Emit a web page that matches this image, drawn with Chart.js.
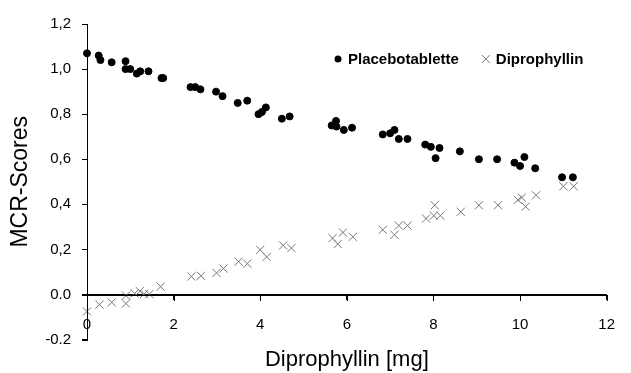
<!DOCTYPE html>
<html>
<head>
<meta charset="utf-8">
<script src="https://cdn.jsdelivr.net/npm/chart.js@4.4.1/dist/chart.umd.min.js"></script>
<style>
  body { margin: 0; background: #fff; }
</style>
</head>
<body>
<canvas id="grafico" width="631" height="373"></canvas>
<script>
// Dosis (mg) und MCR-Scores, Placebo
const placeboDose = [0, 0.27, 0.31, 0.57, 0.89, 0.89, 1.0, 1.15, 1.23, 1.42, 1.72, 1.76,
  2.39, 2.5, 2.62, 2.98, 3.13, 3.48, 3.7, 3.96, 4.04, 4.13, 4.5, 4.68,
  5.65, 5.75, 5.76, 5.93, 6.12, 6.83, 7.0, 7.1, 7.2, 7.4, 7.81, 7.94, 8.05, 8.14,
  8.61, 9.05, 9.47, 9.87, 10.0, 10.1, 10.35, 10.97, 11.22];
const placeboScore = [1.07, 1.06, 1.04, 1.03, 1.035, 1.0, 1.0, 0.98, 0.99, 0.99, 0.96, 0.96,
  0.92, 0.92, 0.91, 0.90, 0.88, 0.85, 0.86, 0.80, 0.81, 0.83, 0.78, 0.79,
  0.75, 0.77, 0.745, 0.73, 0.74, 0.71, 0.715, 0.73, 0.69, 0.69, 0.665, 0.655, 0.605, 0.65,
  0.635, 0.60, 0.60, 0.585, 0.57, 0.61, 0.56, 0.52, 0.52];

// Dosis (mg) und MCR-Scores, Diprophyllin
const diproDose = [0, 0.29, 0.57, 0.9, 0.9, 1.1, 1.22, 1.32, 1.44, 1.7,
  2.41, 2.63, 2.99, 3.15, 3.5, 3.7, 4.0, 4.15, 4.53, 4.72,
  5.67, 5.79, 5.91, 6.14, 6.83, 7.1, 7.2, 7.4, 7.83, 8.03, 8.01, 8.16,
  8.63, 9.05, 9.49, 9.95, 10.04, 10.13, 10.37, 11.0, 11.24];
const diproScore = [-0.075, -0.045, -0.035, -0.005, -0.04, 0.005, 0.015, 0.003, 0.002, 0.035,
  0.08, 0.083, 0.096, 0.115, 0.146, 0.137, 0.198, 0.167, 0.218, 0.206,
  0.25, 0.224, 0.275, 0.256, 0.287, 0.265, 0.306, 0.306, 0.337, 0.396, 0.35, 0.35,
  0.367, 0.396, 0.396, 0.42, 0.43, 0.39, 0.44, 0.48, 0.48];

const serien = ['Placebotablette', 'Diprophyllin'];
const yTickLabels = ['-0.2', '0.0', '0,2', '0,4', '0,6', '0,8', '1,0', '1,2'];

const fuente = '"Liberation Sans", Arial, sans-serif';
Chart.defaults.color = '#000';
Chart.defaults.font.family = fuente;

function puntos(xs, ys) {
  return xs.map((x, i) => ({x: x, y: ys[i]}));
}

// Achsenlinien und Teilstriche als 1px-Rechtecke, Lage aus den Skalen
const ejes = {
  id: 'ejes',
  afterDatasetsDraw(chart) {
    const {ctx, chartArea, scales} = chart;
    const sx = scales.x, sy = scales.y;
    const x0 = Math.round(chartArea.left);
    const y0 = Math.round(sy.getPixelForValue(0));
    const arriba = Math.round(chartArea.top);
    const abajo = Math.round(chartArea.bottom);
    ctx.save();
    ctx.globalAlpha = 1;
    ctx.globalCompositeOperation = 'source-over';
    ctx.fillStyle = '#000';
    // y-Achse mit Teilstrichen nach links
    ctx.fillRect(x0, arriba, 1, abajo - arriba + 1);
    sy.ticks.forEach((t) => {
      const py = Math.round(sy.getPixelForValue(t.value));
      ctx.fillRect(x0 - 5, py, 5, 1);
    });
    // x-Achse bei 0 mit Teilstrichen nach unten
    ctx.fillRect(x0, y0, Math.round(chartArea.right) - x0 + 1, 1);
    sx.ticks.forEach((t) => {
      const px = Math.round(sx.getPixelForValue(t.value));
      ctx.fillRect(px, y0, 1, 6);
    });
    ctx.restore();
  }
};

// Legende innerhalb der Zeichenfläche
const leyenda = {
  id: 'leyenda',
  afterDatasetsDraw(chart) {
    const {ctx, chartArea} = chart;
    ctx.save();
    ctx.setLineDash([]);
    ctx.font = 'bold 15px ' + fuente;
    ctx.textBaseline = 'middle';
    let x = chartArea.left + 251;
    const y = chartArea.top + 35;
    chart.data.datasets.forEach((ds) => {
      if (ds.pointStyle === 'circle') {
        ctx.fillStyle = '#000';
        ctx.beginPath();
        ctx.arc(x, y, 3.5, 0, Math.PI * 2);
        ctx.fill();
      } else {
        ctx.strokeStyle = ds.borderColor;
        ctx.lineWidth = 1;
        ctx.beginPath();
        ctx.moveTo(x - 4, y - 4); ctx.lineTo(x + 4, y + 4);
        ctx.moveTo(x - 4, y + 4); ctx.lineTo(x + 4, y - 4);
        ctx.stroke();
      }
      ctx.fillStyle = '#000';
      ctx.fillText(ds.label, x + 10, y + 1);
      x += 10 + ctx.measureText(ds.label).width + 27;
    });
    ctx.restore();
  }
};

const config = {
  type: 'scatter',
  data: {
    datasets: [{
      label: serien[0],
      data: puntos(placeboDose, placeboScore),
      pointStyle: 'circle',
      pointRadius: 3.5,
      backgroundColor: '#000',
      borderColor: '#000',
      borderWidth: 1,
      clip: false
    }, {
      label: serien[1],
      data: puntos(diproDose, diproScore),
      pointStyle: 'crossRot',
      pointRadius: 5.8,
      backgroundColor: '#777',
      borderColor: '#777',
      borderWidth: 1,
      clip: false
    }]
  },
  options: {
    responsive: false,
    animation: false,
    layout: { padding: { top: 24, right: 10, bottom: 0, left: 0 } },
    plugins: {
      legend: { display: false },
      title: {
        display: true,
        position: 'bottom',
        fullSize: false,
        text: 'Diprophyllin [mg]',
        font: { size: 22, weight: 'normal' },
        padding: { top: 7, bottom: 0 }
      }
    },
    scales: {
      x: {
        position: { y: 0 },
        min: 0,
        max: 12,
        ticks: { stepSize: 2, color: '#000', padding: 16, font: { size: 15 } },
        grid: { drawOnChartArea: false, tickLength: 5, color: '#000' },
        border: { color: '#000', width: 1 }
      },
      y: {
        min: -0.2,
        max: 1.2,
        ticks: {
          stepSize: 0.2,
          color: '#000',
          padding: 11,
          font: { size: 15 },
          callback: (v, i) => yTickLabels[i]
        },
        grid: { drawOnChartArea: false, tickLength: 5, color: '#000' },
        border: { color: '#000', width: 1 },
        title: {
          display: true,
          text: 'MCR-Scores',
          font: { size: 23 },
          padding: { top: 7, bottom: 0 }
        },
        afterFit: (escala) => { escala.width = 87; }
      }
    }
  },
  plugins: [ejes, leyenda]
};

const myChart = new Chart(document.getElementById('grafico'), config);
</script>
</body>
</html>
